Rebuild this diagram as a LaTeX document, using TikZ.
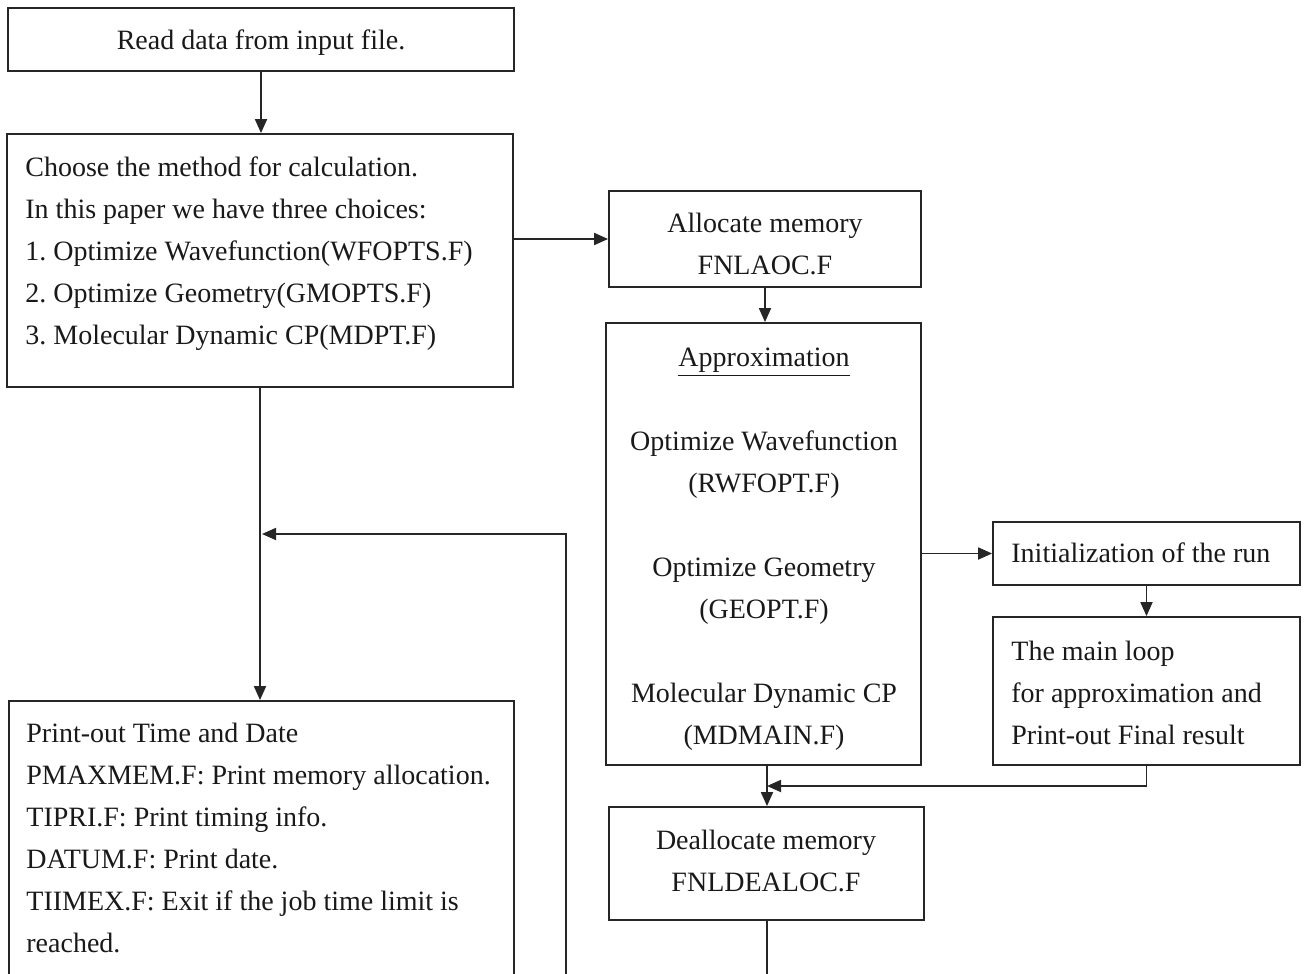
\documentclass[tikz,border=0pt]{standalone}
\usepackage{fontspec}
\setmainfont{Liberation Serif}
\usetikzlibrary{arrows.meta,fit,calc}
\frenchspacing
\begin{document}
\begin{tikzpicture}[x=0.5pt,y=-0.5pt,
  box/.style={draw=black!85, line width=0.9pt, inner sep=0pt},
  txt/.style={inner sep=0pt, text=black!90, font=\fontsize{14}{21}\selectfont},
  arr/.style={draw=black!85, line width=0.9pt, -{Triangle[length=7pt,width=6pt]}},
  ln/.style={draw=black!85, line width=0.9pt}]
\useasboundingbox (0,0) rectangle (1308,974);
\clip (0,0) rectangle (1308,974);

% boxes
\node[box, fit={(8,8) (514,71)}] (read) {};
\node[box, fit={(7,134) (513,387)}] (choose) {};
\node[box, fit={(609,191) (921,287)}] (alloc) {};
\node[box, fit={(606,323) (921,765)}] (approx) {};
\node[box, fit={(993,522) (1300,585)}] (init) {};
\node[box, fit={(993,617) (1300,765)}] (loop) {};
\node[box, fit={(609,807) (924,920)}] (dealloc) {};
\node[box, fit={(9,701) (514,975)}] (print) {};

% texts
\node[txt, anchor=north] (readT) at (261,19.6) {\strut Read data from input file.};
\node[txt, anchor=north west, align=left] (chooseT) at (25,146.6)
  {\strut Choose the method for calculation.\\
   In this paper we have three choices:\\
   1. Optimize Wavefunction(WFOPTS.F)\\
   2. Optimize Geometry(GMOPTS.F)\\
   3. Molecular Dynamic CP(MDPT.F)};
\node[txt, anchor=north, align=center] (allocT) at (765,202.6)
  {\strut Allocate memory\\ FNLAOC.F};
\node[txt, anchor=north, align=center] (approxT) at (764,336.6)
  {\strut\underline{Approximation}\\[21pt]
   Optimize Wavefunction\\ (RWFOPT.F)\\[21pt]
   Optimize Geometry\\ (GEOPT.F)\\[21pt]
   Molecular Dynamic CP\\ (MDMAIN.F)};
\node[txt, anchor=north west] (initT) at (1011,532.6) {\strut Initialization of the run};
\node[txt, anchor=north west, align=left] (loopT) at (1011,630.6)
  {\strut The main loop\\ for approximation and\\ Print-out Final result};
\node[txt, anchor=north, align=center] (deallocT) at (766,819.6)
  {\strut Deallocate memory\\ FNLDEALOC.F};
\node[txt, anchor=north west, align=left] (printT) at (26,712.6)
  {\strut Print-out Time and Date\\
   PMAXMEM.F: Print memory allocation.\\
   TIPRI.F: Print timing info.\\
   DATUM.F: Print date.\\
   TIIMEX.F: Exit if the job time limit is\\
   reached.};

% connectors
\coordinate (merge) at (767,786);
\coordinate (exitA) at (767,990);
\coordinate (back) at (566,990);
\coordinate (join) at (262,534);

\draw[arr] (read.south) -- (read.south |- choose.north);
\draw[arr] (choose.east |- alloc.west) -- (alloc.west);
\draw[arr] (alloc.south) -- (alloc.south |- approx.north);
\draw[arr] (approx.east |- init.west) -- (init.west);
\draw[arr] (init.south) -- (init.south |- loop.north);
\draw[arr] (loop.south) |- (merge);
\draw[arr] (approx.south -| merge) -- (merge |- dealloc.north);
\draw[ln] (dealloc.south -| exitA) -- (exitA);
\draw[arr] (choose.south) -- (choose.south |- print.north);
\draw[arr] (back) |- (join);
\end{tikzpicture}
\end{document}
